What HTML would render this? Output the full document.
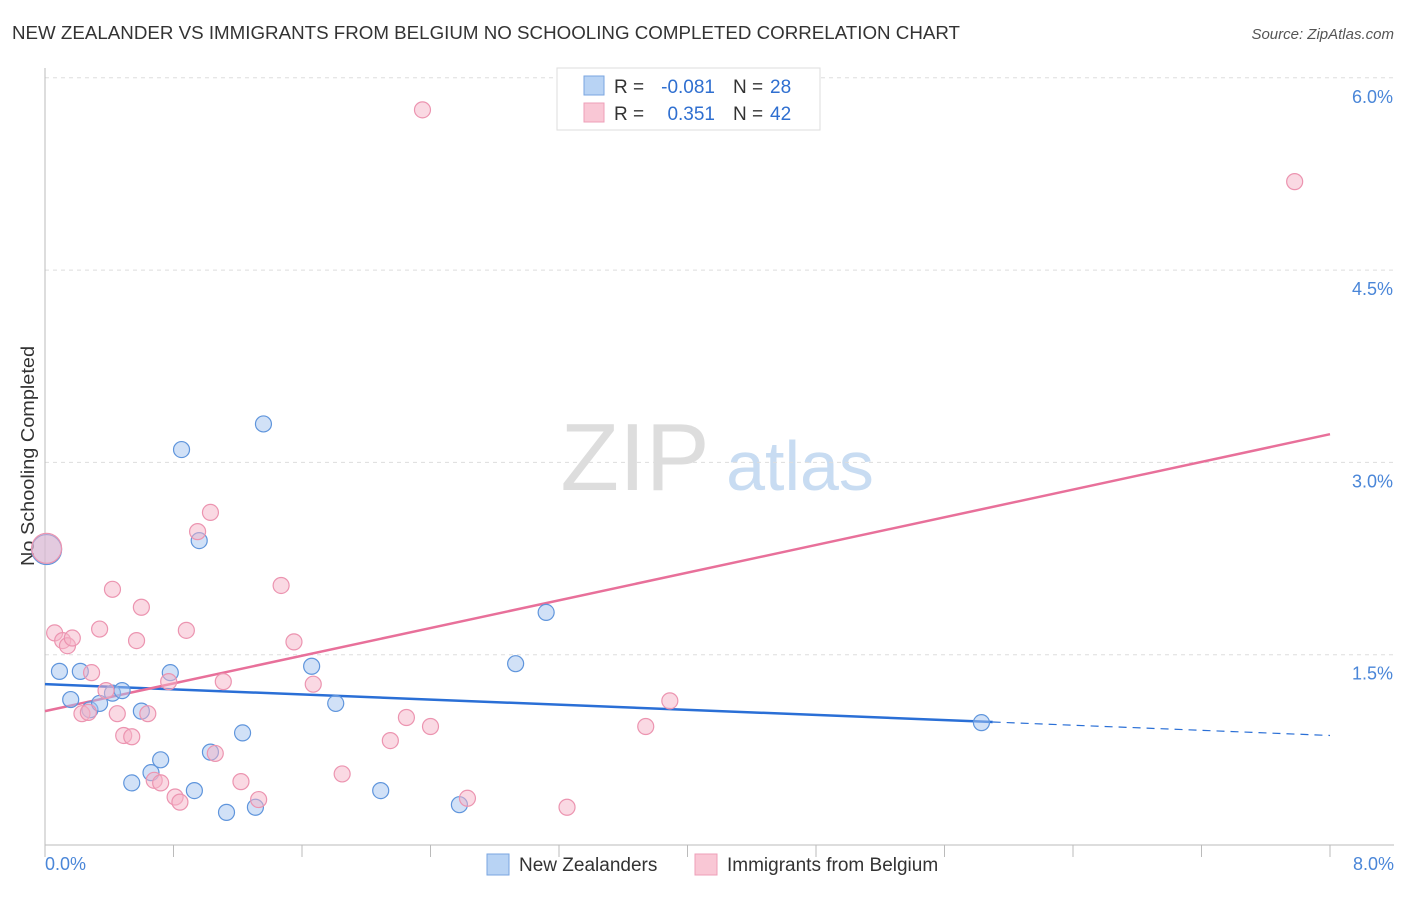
<!DOCTYPE html>
<html><head><meta charset="utf-8"><style>
body{margin:0;background:#fff;font-family:"Liberation Sans",sans-serif;}
svg text{font-family:"Liberation Sans",sans-serif;}
</style></head><body>
<svg id="chart" width="1406" height="892" xmlns="http://www.w3.org/2000/svg">
<text x="12" y="39" font-size="18" fill="#333" textLength="948" lengthAdjust="spacingAndGlyphs">NEW ZEALANDER VS IMMIGRANTS FROM BELGIUM NO SCHOOLING COMPLETED CORRELATION CHART</text>
<text x="1394" y="39" font-size="15" fill="#555" text-anchor="end" font-style="italic">Source: ZipAtlas.com</text>
<text transform="translate(34,456) rotate(-90)" font-size="18" fill="#333" text-anchor="middle" textLength="220" lengthAdjust="spacingAndGlyphs">No Schooling Completed</text>
<g>
<text x="635" y="490" font-size="96" fill="#ddd" font-family="Liberation Serif" text-anchor="middle">ZIP</text>
<text x="800" y="490" font-size="70" fill="#c8dcf2" text-anchor="middle">atlas</text>
</g>
<g id="grid"></g><g id="axes"></g><g id="lines"></g><g id="pts"></g>
<g>
<rect x="557" y="68" width="263" height="62" fill="#fff" stroke="#ddd"/>
<rect x="584" y="76" width="20" height="19" fill="#b8d3f4" stroke="#7aa6e0"/>
<rect x="584" y="103" width="20" height="19" fill="#f9c7d5" stroke="#ee9fb8"/>
<text x="614" y="93" font-size="19" fill="#333">R =</text>
<text x="715" y="93" font-size="19" fill="#2f6fd0" text-anchor="end">-0.081</text>
<text x="733" y="93" font-size="19" fill="#333">N =</text>
<text x="770" y="93" font-size="19" fill="#2f6fd0">28</text>
<text x="614" y="120" font-size="19" fill="#333">R =</text>
<text x="715" y="120" font-size="19" fill="#2f6fd0" text-anchor="end">0.351</text>
<text x="733" y="120" font-size="19" fill="#333">N =</text>
<text x="770" y="120" font-size="19" fill="#2f6fd0">42</text>
</g>
<g>
<rect x="487" y="854" width="22" height="21" fill="#b8d3f4" stroke="#7aa6e0"/>
<text x="519" y="871" font-size="19" fill="#333">New Zealanders</text>
<rect x="695" y="854" width="22" height="21" fill="#f9c7d5" stroke="#ee9fb8"/>
<text x="727" y="871" font-size="19" fill="#333">Immigrants from Belgium</text>
</g>
</svg>
<script>
const yTicks=[1.5,3.0,4.5,6.0];
const xTickLabels=["0.0%","8.0%"];
const blueX=[0.01,0.09,0.16,0.22,0.28,0.34,0.42,0.48,0.54,0.60,0.66,0.72,0.78,0.85,0.93,0.96,1.03,1.13,1.23,1.31,1.36,1.66,1.81,2.09,2.58,2.93,3.12,5.83];
const blueY=[2.32,1.37,1.15,1.37,1.07,1.12,1.20,1.22,0.50,1.06,0.58,0.68,1.36,3.10,0.44,2.39,0.74,0.27,0.89,0.31,3.30,1.41,1.12,0.44,0.33,1.43,1.83,0.97];
const pinkX=[0.01,0.06,0.11,0.14,0.17,0.23,0.27,0.29,0.34,0.38,0.42,0.45,0.49,0.54,0.57,0.60,0.64,0.68,0.72,0.77,0.81,0.84,0.88,0.95,1.03,1.06,1.11,1.22,1.33,1.47,1.55,1.67,1.85,2.15,2.25,2.35,2.40,2.63,3.25,3.74,3.89,7.78];
const pinkY=[2.33,1.67,1.61,1.57,1.63,1.04,1.05,1.36,1.70,1.22,2.01,1.04,0.87,0.86,1.61,1.87,1.04,0.52,0.50,1.29,0.39,0.35,1.69,2.46,2.61,0.73,1.29,0.51,0.37,2.04,1.60,1.27,0.57,0.83,1.01,5.75,0.94,0.38,0.31,0.94,1.14,5.19];
const blueTrend=[1.27,0.87];
const pinkTrend=[1.06,3.22];
const NS="http://www.w3.org/2000/svg";
const X=v=>45+v/8*1285, Y=v=>847-v/1.5*192.3;
function mk(t,a,p){const e=document.createElementNS(NS,t);for(const k in a)e.setAttribute(k,a[k]);p.appendChild(e);return e;}
const grid=document.getElementById('grid'),axes=document.getElementById('axes'),lines=document.getElementById('lines'),pts=document.getElementById('pts');
yTicks.forEach(t=>{
 const l=mk('line',{x1:45,x2:1394,y1:Y(t),y2:Y(t),stroke:'#ddd','stroke-dasharray':'4,4'},grid);
 
 
 const tx=mk('text',{x:1393,y:Y(t)+25,'font-size':18,fill:'#4a86d8','text-anchor':'end'},grid);
 tx.textContent=t.toFixed(1)+'%';
 
 
});
const ax=mk('path',{d:'M45,68V845H1394',stroke:'#bbb',fill:'none'},axes);


for(let i=0;i<=10;i++){const t=mk('line',{x1:X(i*0.8),x2:X(i*0.8),y1:845,y2:857,stroke:'#bbb'},axes);
 
 }
xTickLabels.forEach((s,i)=>{const t=mk('text',{x:i?1394:45,y:870,'font-size':18,fill:'#4a86d8','text-anchor':i?'end':'start'},axes);t.textContent=s;
 
 });
function pt(xs,ys,fill,stroke,name){xs.forEach((x,i)=>{const r=i===0?15:8;
 const c=mk('circle',{cx:X(x),cy:Y(ys[i]),r:r,fill:fill,'fill-opacity':0.5,stroke:stroke,'stroke-width':1.2},pts);
 
 });}
pt(blueX,blueY,'#a3c4ef','#5f95dc','new-zealander-point');
pt(pinkX,pinkY,'#f6b4c8','#ec94b0','belgium-point');
const bAt=x=>blueTrend[0]+(blueTrend[1]-blueTrend[0])*x/8;
const bl=mk('line',{x1:X(0),y1:Y(bAt(0)),x2:X(5.9),y2:Y(bAt(5.9)),stroke:'#2a6fd6','stroke-width':2.5},lines);


const bd=mk('line',{x1:X(5.9),y1:Y(bAt(5.9)),x2:X(8),y2:Y(bAt(8)),stroke:'#2a6fd6','stroke-width':1.2,'stroke-dasharray':'8,6'},lines);


const pl=mk('line',{x1:X(0),y1:Y(pinkTrend[0]),x2:X(8),y2:Y(pinkTrend[1]),stroke:'#e8709a','stroke-width':2.5},lines);


</script>
</body></html>
